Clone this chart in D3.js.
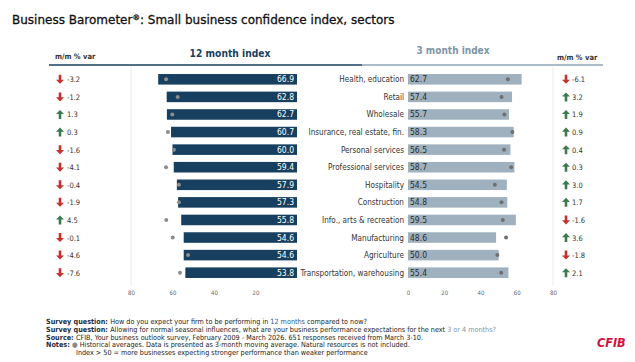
<!DOCTYPE html>
<html>
<head>
<meta charset="utf-8">
<script src="https://cdn.jsdelivr.net/npm/d3@7"></script>
<style>
  body { margin: 0; background: #fff; }
  text { font-family: "DejaVu Sans Condensed", "DejaVu Sans", sans-serif; }
</style>
</head>
<body>
<div id="chart"></div>
<script>
// Data
const categories = ['Health, education', 'Retail', 'Wholesale', 'Insurance, real estate, fin.',
    'Personal services', 'Professional services', 'Hospitality', 'Construction',
    'Info., arts & recreation', 'Manufacturing', 'Agriculture', 'Transportation, warehousing'];
const index12 = [66.9, 62.8, 62.7, 60.7, 60.0, 59.4, 57.9, 57.3, 55.8, 54.6, 54.6, 53.8];
const hist12 = [63.1, 57.5, 60.1, 62.2, 59.3, 63.1, 56.9, 56.9, 63.0, 59.9, 52.5, 56.4];
const var12 = [-3.2, -1.2, 1.3, 0.3, -1.6, -4.1, -0.4, -1.9, 4.5, -0.1, -4.6, -7.6];
const index3 = [62.7, 57.4, 55.7, 58.3, 56.5, 58.7, 54.5, 54.8, 59.5, 48.6, 50.0, 55.4];
const hist3 = [55.1, 51.6, 53.2, 57.6, 53.0, 56.9, 47.9, 51.6, 52.3, 54.1, 49.3, 51.4];
const var3 = [-6.1, 3.2, 1.9, 0.9, 0.4, 0.3, 3.0, 1.7, -1.6, 3.6, -1.8, 2.1];
const ticks12 = [80, 60, 40, 20];
const ticks3 = [0, 20, 40, 60, 80];

const rows = categories.map((c, i) => ({
    name: c, v12: index12[i], h12: hist12[i], d12: var12[i],
    v3: index3[i], h3: hist3[i], d3: var3[i]
}));

// Dimension
const dimensions = { width: 635, height: 362 };
const navy = '#173f5f';
const slate = '#9fb1be';
const red = '#c8302b';
const green = '#3d7a4d';

const svg = d3.select('#chart')
    .append('svg')
    .attr('width', dimensions.width)
    .attr('height', dimensions.height);

// Title
const title = svg.append('text')
    .attr('x', 12).attr('y', 24)
    .attr('font-size', 12)
    .attr('fill', '#111')
    .attr('stroke', '#111')
    .attr('stroke-width', 0.3)
    .style('font-family', '"DejaVu Sans", sans-serif');
title.append('tspan').text('Business Barometer');
title.append('tspan').attr('font-size', 7.5).attr('dy', -4).text('®');
title.append('tspan').attr('dy', 4).text(': Small business confidence index, sectors');

// Scales
const yScale = d3.scaleBand()
    .domain(categories)
    .range([67, 285])
    .padding(0.4);

const x12 = d3.scaleLinear().domain([0, 80]).range([297, 131]);
const x3 = d3.scaleLinear().domain([0, 80]).range([408, 553]);

// Headers
svg.append('line')
    .attr('x1', 49).attr('x2', 362).attr('y1', 65).attr('y2', 65)
    .attr('stroke', navy).attr('stroke-width', 1.5);
svg.append('line')
    .attr('x1', 362).attr('x2', 603).attr('y1', 65).attr('y2', 65)
    .attr('stroke', '#8fa6b6').attr('stroke-width', 1.5);

svg.append('text').attr('x', 55).attr('y', 59)
    .attr('font-size', 7.5).attr('font-weight', 'bold').attr('fill', '#333')
    .text('m/m % var');
svg.append('text').attr('x', 557).attr('y', 60)
    .attr('font-size', 7.5).attr('font-weight', 'bold').attr('fill', '#333')
    .text('m/m % var');
svg.append('text').attr('x', 230).attr('y', 57)
    .attr('text-anchor', 'middle')
    .attr('font-size', 10.2).attr('font-weight', 'bold').attr('fill', navy)
    .text('12 month index');
svg.append('text').attr('x', 453).attr('y', 54)
    .attr('text-anchor', 'middle')
    .attr('font-size', 10).attr('font-weight', 'bold').attr('fill', '#7d95a6')
    .text('3 month index');

// Gridlines at the outer ticks
svg.append('line')
    .attr('x1', x12(80)).attr('x2', x12(80)).attr('y1', 67).attr('y2', 286)
    .attr('stroke', '#ececec');
svg.append('line')
    .attr('x1', x3(80)).attr('x2', x3(80)).attr('y1', 67).attr('y2', 286)
    .attr('stroke', '#ececec');

// Axis
const axisY = 287;
const ax12 = svg.append('g')
    .attr('transform', `translate(0, ${axisY})`)
    .call(d3.axisBottom(x12).tickValues(ticks12).tickSize(0).tickPadding(4));
const ax3 = svg.append('g')
    .attr('transform', `translate(0, ${axisY})`)
    .call(d3.axisBottom(x3).tickValues(ticks3).tickSize(0).tickPadding(4));
[ax12, ax3].forEach(ax => {
    ax.select('.domain').remove();
    ax.selectAll('text')
        .attr('font-size', 6)
        .attr('fill', '#666')
        .style('font-family', '"DejaVu Sans Condensed", "DejaVu Sans", sans-serif');
});

// 12 month bars
const left = svg.append('g').classed('index-12', true);
left.selectAll('rect')
    .data(rows)
    .join('rect')
    .attr('x', d => x12(d.v12))
    .attr('y', d => yScale(d.name))
    .attr('width', d => x12(0) - x12(d.v12))
    .attr('height', yScale.bandwidth())
    .attr('fill', navy);
left.selectAll('circle')
    .data(rows)
    .join('circle')
    .attr('cx', d => x12(d.h12))
    .attr('cy', d => yScale(d.name) + yScale.bandwidth() / 2)
    .attr('r', 2)
    .attr('fill', '#8d8d8d');
left.selectAll('text')
    .data(rows)
    .join('text')
    .attr('x', x12(0) - 3)
    .attr('y', d => yScale(d.name) + yScale.bandwidth() / 2 + 3)
    .attr('text-anchor', 'end')
    .attr('font-size', 8.5)
    .attr('fill', '#fff')
    .text(d => d.v12.toFixed(1));

// 3 month bars
const right = svg.append('g').classed('index-3', true);
right.selectAll('rect')
    .data(rows)
    .join('rect')
    .attr('x', x3(0))
    .attr('y', d => yScale(d.name))
    .attr('width', d => x3(d.v3) - x3(0))
    .attr('height', yScale.bandwidth())
    .attr('fill', slate);
right.selectAll('circle')
    .data(rows)
    .join('circle')
    .attr('cx', d => x3(d.h3))
    .attr('cy', d => yScale(d.name) + yScale.bandwidth() / 2)
    .attr('r', 2)
    .attr('fill', '#6f6f6f');
right.selectAll('text.val')
    .data(rows)
    .join('text')
    .classed('val', true)
    .attr('x', x3(0) + 2)
    .attr('y', d => yScale(d.name) + yScale.bandwidth() / 2 + 3)
    .attr('font-size', 8.5)
    .attr('fill', '#2b2b2b')
    .text(d => d.v3.toFixed(1));

// Category labels
svg.append('g')
    .selectAll('text')
    .data(rows)
    .join('text')
    .attr('x', 404)
    .attr('y', d => yScale(d.name) + yScale.bandwidth() / 2 + 3)
    .attr('text-anchor', 'end')
    .attr('font-size', 8.1)
    .attr('fill', '#333')
    .text(d => d.name);

// m/m % var columns with arrows
const arrowShape = 'M0,-4.5 L4,-0.4 L1.3,-0.4 L1.3,4.5 L-1.3,4.5 L-1.3,-0.4 L-4,-0.4 Z';

function varColumn(xArrow, xText, key) {
    const g = svg.append('g');
    g.selectAll('path')
        .data(rows)
        .join('path')
        .attr('d', arrowShape)
        .attr('transform', d => `translate(${xArrow}, ${yScale(d.name) + yScale.bandwidth() / 2}) rotate(${d[key] >= 0 ? 0 : 180})`)
        .attr('fill', d => d[key] >= 0 ? green : red);
    g.selectAll('text')
        .data(rows)
        .join('text')
        .attr('x', xText)
        .attr('y', d => yScale(d.name) + yScale.bandwidth() / 2 + 3)
        .attr('font-size', 7.5)
        .attr('fill', '#333')
        .text(d => d[key].toFixed(1));
}
varColumn(60, 67, 'd12');
varColumn(566, 572, 'd3');

// Footer
const footer = svg.append('g').attr('font-size', 7.2).attr('fill', '#222');
const fx = 46;
const lineGap = 7.8;
const lines = [
    [['Survey question: ', 'b'], ['How do you expect your firm to be performing in ', ''], ['12 months', 'navy'], [' compared to now?', '']],
    [['Survey question: ', 'b'], ['Allowing for normal seasonal influences, what are your business performance expectations for the next ', ''], ['3 or 4 months?', 'slate']],
    [['Source: ', 'b'], ['CFIB, Your business outlook survey, February 2009 - March 2026. 651 responses received from March 3-10.', '']],
    [['Notes: ', 'b'], ['\u25CF', 'dot'], [' Historical averages. Data is presented as 3-month moving average. Natural resources is not included.', '']],
];
lines.forEach((parts, i) => {
    const t = footer.append('text').attr('x', fx).attr('y', 324 + i * lineGap);
    parts.forEach(([s, k]) => {
        const sp = t.append('tspan').text(s);
        if (k === 'b') sp.attr('font-weight', 'bold').attr('fill', '#1f2f3f');
        if (k === 'navy') sp.attr('fill', '#1f5a8a');
        if (k === 'slate') sp.attr('fill', '#7f97a8');
        if (k === 'dot') sp.attr('fill', '#8a8a8a');
    });
});
footer.append('text').attr('x', 76).attr('y', 324 + 4 * lineGap)
    .text('Index > 50 = more businesses expecting stronger performance than weaker performance');

// Logo
svg.append('text')
    .attr('x', 597).attr('y', 347)
    .attr('font-size', 12.5)
    .attr('font-weight', 'bold')
    .attr('font-style', 'italic')
    .attr('fill', '#d3123c')
    .text('CFIB');
</script>
</body>
</html>
